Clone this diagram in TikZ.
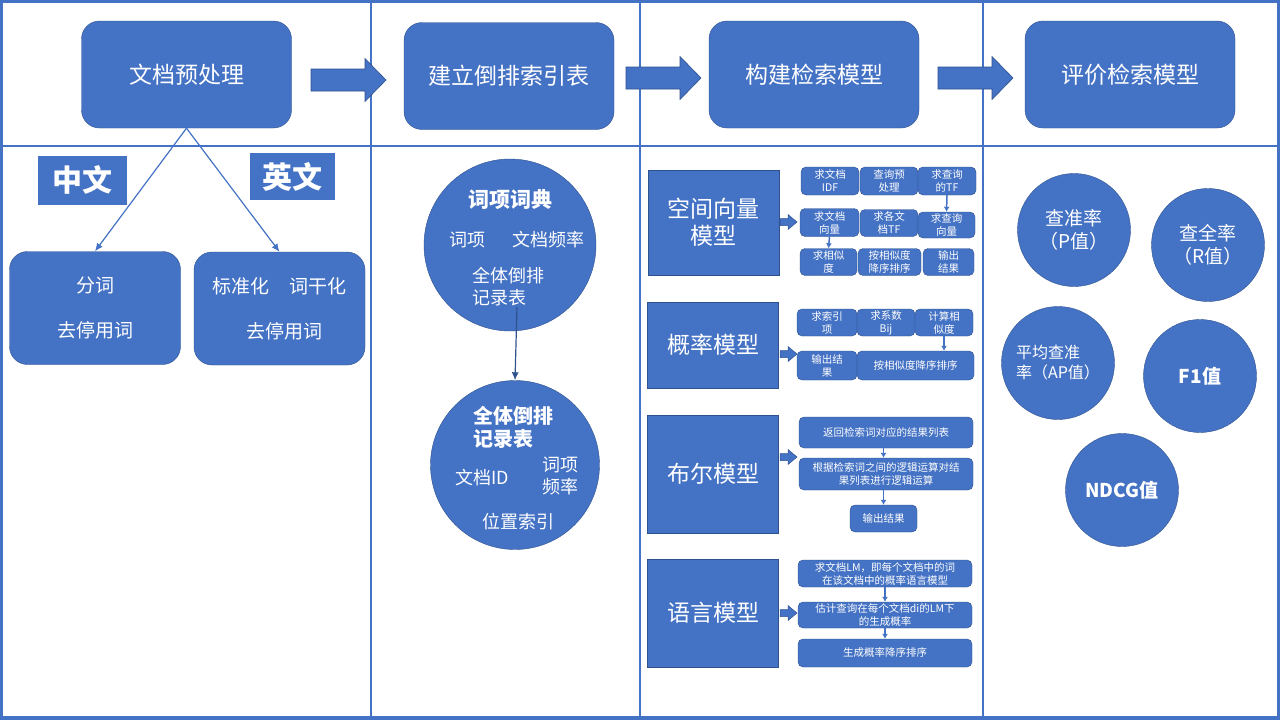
\documentclass[tikz,border=0pt]{standalone}
\usepackage{fontspec}
\setmainfont{Noto Sans CJK SC}
\usetikzlibrary{arrows.meta, positioning}
\definecolor{docblue}{HTML}{4472C4}
\definecolor{edgeblue}{HTML}{2F528F}
\tikzset{
  frame/.style={docblue, line width=2.5pt},
  stage/.style={
    rectangle,
    rounded corners=18pt,
    minimum width=210pt,
    minimum height=107pt,
    align=center,
    fill=docblue,
    draw=edgeblue,
    text=white,
    font=\fontsize{23}{28}\selectfont
  },
  langbox/.style={
    rectangle,
    rounded corners=18pt,
    minimum width=171pt,
    minimum height=113pt,
    align=center,
    fill=docblue,
    draw=edgeblue,
    text=white,
    font=\fontsize{19}{45}\selectfont
  },
  tag/.style={
    rectangle,
    fill=docblue,
    text=white,
    inner sep=0pt,
    font=\fontsize{30}{34}\selectfont\bfseries
  },
  disc/.style={
    circle,
    fill=docblue,
    draw=edgeblue,
    inner sep=0pt
  },
  intext/.style={text=white, inner sep=0pt, font=\fontsize{18}{22}\selectfont},
  model/.style={
    rectangle,
    minimum width=131pt,
    align=center,
    fill=docblue,
    draw=edgeblue,
    text=white,
    font=\fontsize{23}{27}\selectfont
  },
  cell/.style={
    rectangle,
    rounded corners=5pt,
    minimum width=58pt,
    minimum height=28pt,
    inner sep=1pt,
    align=center,
    fill=docblue,
    draw=edgeblue,
    text=white,
    font=\fontsize{10.5}{13}\selectfont
  },
  metric/.style={
    circle,
    minimum size=113pt,
    inner sep=0pt,
    align=center,
    fill=docblue,
    draw=edgeblue,
    text=white,
    font=\fontsize{19}{23}\selectfont
  },
  arrow/.style={docblue, line width=1.2pt, -{Latex[length=8pt,width=7pt]}},
  darrow/.style={edgeblue, line width=1.2pt, -{Latex[length=8pt,width=7pt]}},
  sarrow/.style={docblue, line width=1.5pt, -{Latex[length=5pt,width=6pt]}},
  bigarrow/.pic={
    \filldraw[fill=docblue, draw=edgeblue, line width=0.6pt]
      (0,-11) -- (54,-11) -- (54,-21.5) -- (75,0) -- (54,21.5) -- (54,11) -- (0,11) -- cycle;
  },
  smallarrow/.pic={
    \filldraw[fill=docblue, draw=edgeblue, line width=0.5pt]
      (0,-3.5) -- (8,-3.5) -- (8,-7.5) -- (17,0) -- (8,7.5) -- (8,3.5) -- (0,3.5) -- cycle;
  }
}

\begin{document}
\begin{tikzpicture}[x=1pt, y=-1pt]
  \useasboundingbox (0,0) rectangle (1280,720);
  \fill[white] (0,0) rectangle (1280,720);

  % grid
  \draw[frame] (1.5,1.5) rectangle (1278.5,718);
  \draw[frame] (1.5,146) -- (1278.5,146);
  \draw[frame] (371,1.5) -- (371,718);
  \draw[frame] (640,1.5) -- (640,718);
  \draw[frame] (983,1.5) -- (983,718);
  \draw[docblue, line width=3.5pt] (0,718) -- (1280,718);

  % stages
  \node (pre) [stage] at (186.5,74.5) {文档预处理};
  \node (index) [stage] at (509,76) {建立倒排索引表};
  \node (build) [stage] at (814,74.5) {构建检索模型};
  \node (eval) [stage] at (1130,74.5) {评价检索模型};
  \pic at (311,80) {bigarrow};
  \pic at (626,78) {bigarrow};
  \pic at (938,78) {bigarrow};

  % column 1
  \node (zhtag) [tag, minimum width=89pt, minimum height=49pt] at (82,180) {中文};
  \node (entag) [tag, minimum width=85pt, minimum height=47pt] at (292.5,176.5) {英文};
  \node (zh) [langbox] at (95,308) {分词\\去停用词};
  \node (en) [langbox] at (279.5,308.5) {标准化\hspace{20pt}词干化\\\hspace{10pt}去停用词};
  \draw[arrow] (pre.south) -- (zh.north);
  \draw[arrow] (pre.south) -- (en.north);

  % column 2
  \node (dict) [disc, minimum size=172pt] at (510,245) {};
  \node (dicttitle) [intext, font=\fontsize{21}{24}\selectfont\bfseries] at (510,200) {词项词典};
  \node (term) [intext] at (467,240) {词项};
  \node (df) [intext] at (548,240) {文档频率};
  \node (plist) [intext, align=left, anchor=west] at (472,287) {全体倒排\\记录表};
  \node (post) [disc, minimum size=169pt] at (515,465) {};
  \node (posttitle) [intext, align=left, anchor=west, font=\fontsize{20}{23}\selectfont\bfseries] at (473,427) {全体倒排\\记录表};
  \node (docid) [intext] at (482,478) {文档ID};
  \node (tf) [intext, align=center] at (560,476) {词项\\频率};
  \node (pos) [intext] at (518,522) {位置索引};
  \draw[darrow] ([shift={(7,62)}]dict.center) -- (post.north);

  % column 3
  \node (vsm) [model, minimum height=105pt] at (713.5,222.5) {空间向量\\模型};
  \node (prob) [model, minimum height=86pt] at (713,345) {概率模型};
  \node (bool) [model, minimum height=118pt] at (713,474) {布尔模型};
  \node (lm) [model, minimum height=108pt] at (713,613) {语言模型};
  \pic at (780,222) {smallarrow};
  \pic at (780,354) {smallarrow};
  \pic at (780,457) {smallarrow};
  \pic at (780,613) {smallarrow};

  \node (v1) [cell] at (830,181) {求文档\\IDF};
  \node (v2) [cell] at (889,181) {查询预\\处理};
  \node (v3) [cell] at (947,181) {求查询\\的TF};
  \node (v4) [cell, minimum width=59pt] at (829.5,222.5) {求文档\\向量};
  \node (v5) [cell, minimum height=27pt] at (889,223) {求各文\\档TF};
  \node (v6) [cell, minimum width=57pt, minimum height=26pt] at (946.5,225) {求查询\\向量};
  \node (v7) [cell, minimum width=57pt, minimum height=27pt] at (828.5,262) {求相似\\度};
  \node (v8) [cell, minimum width=63pt, minimum height=27pt] at (889.5,262) {按相似度\\降序排序};
  \node (v9) [cell, minimum width=51pt, minimum height=27pt] at (948.5,262) {输出\\结果};
  \draw[sarrow] (v3.south) -- (v6.north);
  \draw[sarrow] (v4.south) -- (v7.north);

  \node (p1) [cell, minimum width=60pt, minimum height=27pt] at (827,322.5) {求索引\\项};
  \node (p2) [cell, minimum height=27pt] at (886,322.5) {求系数\\Bij};
  \node (p3) [cell, minimum height=27pt] at (944,322.5) {计算相\\似度};
  \node (p4) [cell, minimum width=60pt, minimum height=29pt] at (827,365.5) {输出结\\果};
  \node (p5) [cell, minimum width=117pt, minimum height=29pt] at (915.5,365.5) {按相似度降序排序};
  \draw[sarrow] (p3.south) -- (p3.south |- p5.north);

  \node (b1) [cell, minimum width=174pt, minimum height=31pt] at (886,432.5) {返回检索词对应的结果列表};
  \node (b2) [cell, minimum width=174pt, minimum height=32pt] at (886,474) {根据检索词之间的逻辑运算对结\\果列表进行逻辑运算};
  \node (b3) [cell, minimum width=67pt, minimum height=27pt] at (883.5,518.5) {输出结果};
  \draw[sarrow] (b1.south -| b3.north) -- (b3.north |- b2.north);
  \draw[sarrow] (b2.south -| b3.north) -- (b3.north);

  \node (l1) [cell, minimum width=174pt, minimum height=27pt] at (885,573.5) {求文档LM，即每个文档中的词\\在该文档中的概率语言模型};
  \node (l2) [cell, minimum width=174pt, minimum height=26pt] at (885,615) {估计查询在每个文档di的LM下\\的生成概率};
  \node (l3) [cell, minimum width=174pt, minimum height=28pt] at (885,653) {生成概率降序排序};
  \draw[sarrow] (l1.south) -- (l2.north);
  \draw[sarrow] (l2.south) -- (l3.north);

  % column 4
  \node (prec) [metric] at (1074,230) {查准率\\（P值）};
  \node (rec) [metric] at (1208,245) {查全率\\（R值）};
  \node (ap) [metric, align=left, font=\fontsize{16}{20}\selectfont] at (1058,363) {平均查准\\率（AP值）};
  \node (fone) [metric, font=\fontsize{19}{23}\selectfont\bfseries] at (1200,376) {F1值};
  \node (ndcg) [metric, font=\fontsize{19}{23}\selectfont\bfseries] at (1122,490) {NDCG值};
\end{tikzpicture}
\end{document}
